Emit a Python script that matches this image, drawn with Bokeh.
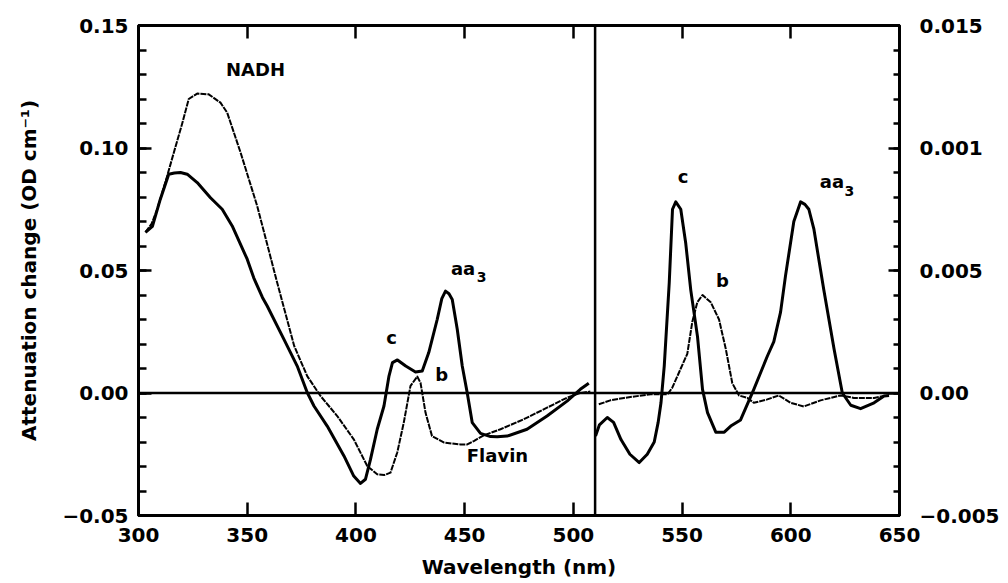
from bokeh.plotting import figure
from bokeh.models import Range1d, LinearAxis, FixedTicker, Span, CustomJSTickFormatter
from bokeh.core.properties import value
from bokeh.embed import file_html
from bokeh.resources import INLINE

FONT = "DejaVu Sans"

# ---- data: left panel (300-510 nm), left axis units ----
left_solid_wl = [303.2, 306.4, 310.0, 313.9, 316.5, 319.3, 322.4, 327.0, 333.1, 338.5, 343.1, 350.0,
                 353.0, 357.0, 359.2, 366.9, 373.0, 377.6, 380.7, 386.8, 394.5, 399.0, 402.1, 404.4,
                 406.7, 409.8, 412.9, 415.2, 416.8, 419.1, 422.9, 427.4, 430.5, 433.5, 437.4, 439.5,
                 441.2, 442.8, 444.3, 446.6, 448.9, 451.2, 453.5, 457.3, 461.9, 465.0, 469.5, 478.7,
                 487.9, 497.1, 503.2, 507.1]
left_solid = [0.0656, 0.068, 0.079, 0.0893, 0.0898, 0.0900, 0.0893, 0.0859, 0.0797, 0.0750, 0.0682, 0.0546,
              0.047, 0.039, 0.0355, 0.0219, 0.011, 0.0002, -0.0053, -0.0135, -0.0257, -0.0339, -0.0369, -0.0352,
              -0.0271, -0.0148, -0.0053, 0.0069, 0.0124, 0.0135, 0.011, 0.0086, 0.009, 0.0165, 0.0301, 0.0385,
              0.0416, 0.0405, 0.0382, 0.026, 0.011, 0.0, -0.0121, -0.0165, -0.0178, -0.0179, -0.0176, -0.0148,
              -0.0094, -0.0033, 0.0015, 0.004]

left_dot_wl = [303.2, 306.0, 308.6, 313.2, 316.2, 320.1, 323.1, 327.0, 332.3, 337.7, 340.8, 347.0, 354.6,
               363.8, 371.6, 377.6, 383.7, 391.4, 399.0, 405.2, 409.8, 413.0, 415.9, 419.0, 422.0, 425.1,
               428.2, 429.7, 432.0, 435.0, 440.4, 448.1, 451.2, 454.2, 458.8, 466.5, 477.2, 487.9, 497.1,
               503.2, 507.8]
left_dot = [0.0656, 0.069, 0.075, 0.0886, 0.098, 0.110, 0.120, 0.1222, 0.1219, 0.1185, 0.1144, 0.098, 0.0763,
            0.045, 0.0192, 0.0069, -0.0012, -0.0094, -0.0189, -0.0298, -0.0332, -0.0335, -0.0325, -0.0243,
            -0.0121, 0.0029, 0.0067, 0.0042, -0.008, -0.0176, -0.0202, -0.021, -0.021, -0.0196, -0.0173,
            -0.0148, -0.0107, -0.006, -0.0019, 0.0, 0.0006]

# ---- data: right panel (510-650 nm), right axis units ----
right_solid_wl = [510.2, 512.0, 515.6, 518.5, 521.9, 526.0, 530.3, 534.0, 537.2, 539.0, 540.3, 541.8, 544.1,
                  545.6, 547.1, 549.4, 551.7, 554.0, 557.1, 559.4, 561.7, 565.5, 569.4, 572.4, 576.9, 583.0,
                  589.2, 592.2, 595.3, 597.6, 601.4, 604.5, 606.5, 608.3, 610.6, 615.2, 619.9, 623.7, 627.6,
                  632.1, 638.3, 642.9, 645.2]
right_solid = [-0.00176, -0.0013, -0.0010, -0.0012, -0.0019, -0.0025, -0.00284, -0.0025, -0.0020, -0.0012,
               -0.0004, 0.0011, 0.0045, 0.0075, 0.0078, 0.0075, 0.0061, 0.0042, 0.0023, 0.00015, -0.0008,
               -0.0016, -0.0016, -0.00135, -0.0011, 0.00015, 0.0015, 0.0021, 0.0033, 0.0048, 0.0070, 0.0078,
               0.0077, 0.0075, 0.0067, 0.0042, 0.0018, 0.0, -0.0005, -0.00064, -0.0004, -0.00012, -0.0001]

right_dot_wl = [511.7, 517.0, 523.3, 535.6, 543.3, 545.4, 549.4, 552.4, 554.7, 557.0, 559.4, 563.2, 567.0,
                570.1, 573.1, 576.2, 580.0, 583.0, 589.2, 594.5, 599.9, 606.0, 613.7, 622.9, 629.0, 638.3, 644.4]
right_dot = [-0.00046, -0.0003, -0.0002, -0.00005, -0.00005, 0.0002, 0.001, 0.0016, 0.0029, 0.0037, 0.0040,
             0.0037, 0.0030, 0.0018, 0.0004, -0.0001, -0.0002, -0.0004, -0.00026, -0.0001, -0.0004, -0.00055,
             -0.0003, -0.0001, -0.0002, -0.0002, -0.0001]

# ---- ticks and labels ----
x_ticks = [300, 350, 400, 450, 500, 550, 600, 650]
top_ticks = [350, 400, 450, 500, 550, 600]
left_ticks = [-0.05, 0.0, 0.05, 0.10, 0.15]
left_labels = ["\u22120.05", "0.00", "0.05", "0.10", "0.15"]
right_ticks = [-0.005, 0.0, 0.005, 0.010, 0.015]
right_labels = ["\u22120.005", "0.00", "0.005", "0.001", "0.015"]
split_wl = 510

# ---- annotations ----
left_ann_text = ["NADH", "c", "b", "aa", "Flavin"]
left_ann_x = [353.8, 416.4, 439.4, 449.3, 465.1]
left_ann_y = [0.132, 0.0227, 0.0076, 0.0509, -0.0254]
left_sub_x = [457.8]
left_sub_y = [0.0474]
right_ann_text = ["c", "b", "aa"]
right_ann_x = [550.5, 568.6, 618.9]
right_ann_y = [0.00882, 0.0046, 0.00862]
right_sub_x = [627.0]
right_sub_y = [0.00824]

p = figure(width=1008, height=583, output_backend="svg", toolbar_location=None,
           x_range=Range1d(300, 650), y_range=Range1d(-0.05, 0.15),
           min_border_left=138, min_border_right=109, min_border_top=25, min_border_bottom=68,
           x_axis_location=None, y_axis_location=None)
p.extra_y_ranges = {"right": Range1d(-0.005, 0.015)}
p.grid.visible = False
p.outline_line_color = "black"
p.outline_line_width = 3
p.background_fill_color = "white"
p.border_fill_color = "white"

def style(ax, label_size="20px"):
    ax.axis_line_width = 3
    ax.axis_line_color = "black"
    ax.major_tick_line_width = 2.5
    ax.minor_tick_line_width = 2.5
    ax.major_tick_in = 13
    ax.major_tick_out = 0
    ax.minor_tick_in = 8
    ax.minor_tick_out = 0
    ax.major_label_text_font = FONT
    ax.major_label_text_font_style = "bold"
    ax.major_label_text_font_size = label_size
    ax.major_label_text_color = "black"
    ax.axis_label_text_font = FONT
    ax.axis_label_text_font_style = "bold"
    ax.axis_label_text_font_size = "20px"
    ax.axis_label_text_color = "black"

xb = LinearAxis(ticker=FixedTicker(ticks=x_ticks, minor_ticks=[]), axis_label="Wavelength (nm)")
style(xb)
xb.major_label_standoff = 12
xb.axis_label_standoff = 10
p.add_layout(xb, "below")

xt = LinearAxis(ticker=FixedTicker(ticks=top_ticks, minor_ticks=[]),
                formatter=CustomJSTickFormatter(code="return ''"))
style(xt)
xt.major_label_standoff = 0
p.add_layout(xt, "above")

yl = LinearAxis(ticker=FixedTicker(ticks=left_ticks,
                                   minor_ticks=[round(-0.05 + 0.01 * i, 3) for i in range(21)]),
                formatter=CustomJSTickFormatter(args=dict(labels=left_labels),
                                                code="return labels[Math.round((tick + 0.05) / 0.05)]"),
                axis_label="Attenuation change (OD cm\u207b\u00b9)")
style(yl)
yl.major_label_standoff = 10
yl.axis_label_standoff = 18
p.add_layout(yl, "left")

yr = LinearAxis(y_range_name="right",
                ticker=FixedTicker(ticks=right_ticks,
                                   minor_ticks=[round(-0.005 + 0.001 * i, 4) for i in range(21)]),
                formatter=CustomJSTickFormatter(args=dict(labels=right_labels),
                                                code="return labels[Math.round((tick + 0.005) / 0.005)]"))
style(yr)
yr.major_tick_in = 11
yr.minor_tick_in = 6
yr.major_label_standoff = 20
p.add_layout(yr, "right")

p.add_layout(Span(location=0, dimension="width", line_color="black", line_width=2.5))
p.add_layout(Span(location=split_wl, dimension="height", line_color="black", line_width=2.5))

# curves
p.line(left_solid_wl, left_solid, line_color="black", line_width=3, line_join="round")
p.line(left_dot_wl, left_dot, line_color="black", line_width=2, line_dash="6 1", line_join="round")
p.line(right_solid_wl, right_solid, line_color="black", line_width=3, line_join="round", y_range_name="right")
p.line(right_dot_wl, right_dot, line_color="black", line_width=2, line_dash="6 1", line_join="round",
       y_range_name="right")

tstyle = dict(text_font=value(FONT), text_font_style="bold", text_color="black",
              text_align="center", text_baseline="middle")
p.text(left_ann_x, left_ann_y, text=left_ann_text, text_font_size="18px", **tstyle)
p.text(left_sub_x, left_sub_y, text=["3"], text_font_size="14px", **tstyle)
p.text(right_ann_x, right_ann_y, text=right_ann_text, text_font_size="18px", y_range_name="right", **tstyle)
p.text(right_sub_x, right_sub_y, text=["3"], text_font_size="14px", y_range_name="right", **tstyle)

open("out.html", "w").write(file_html(p, INLINE))
